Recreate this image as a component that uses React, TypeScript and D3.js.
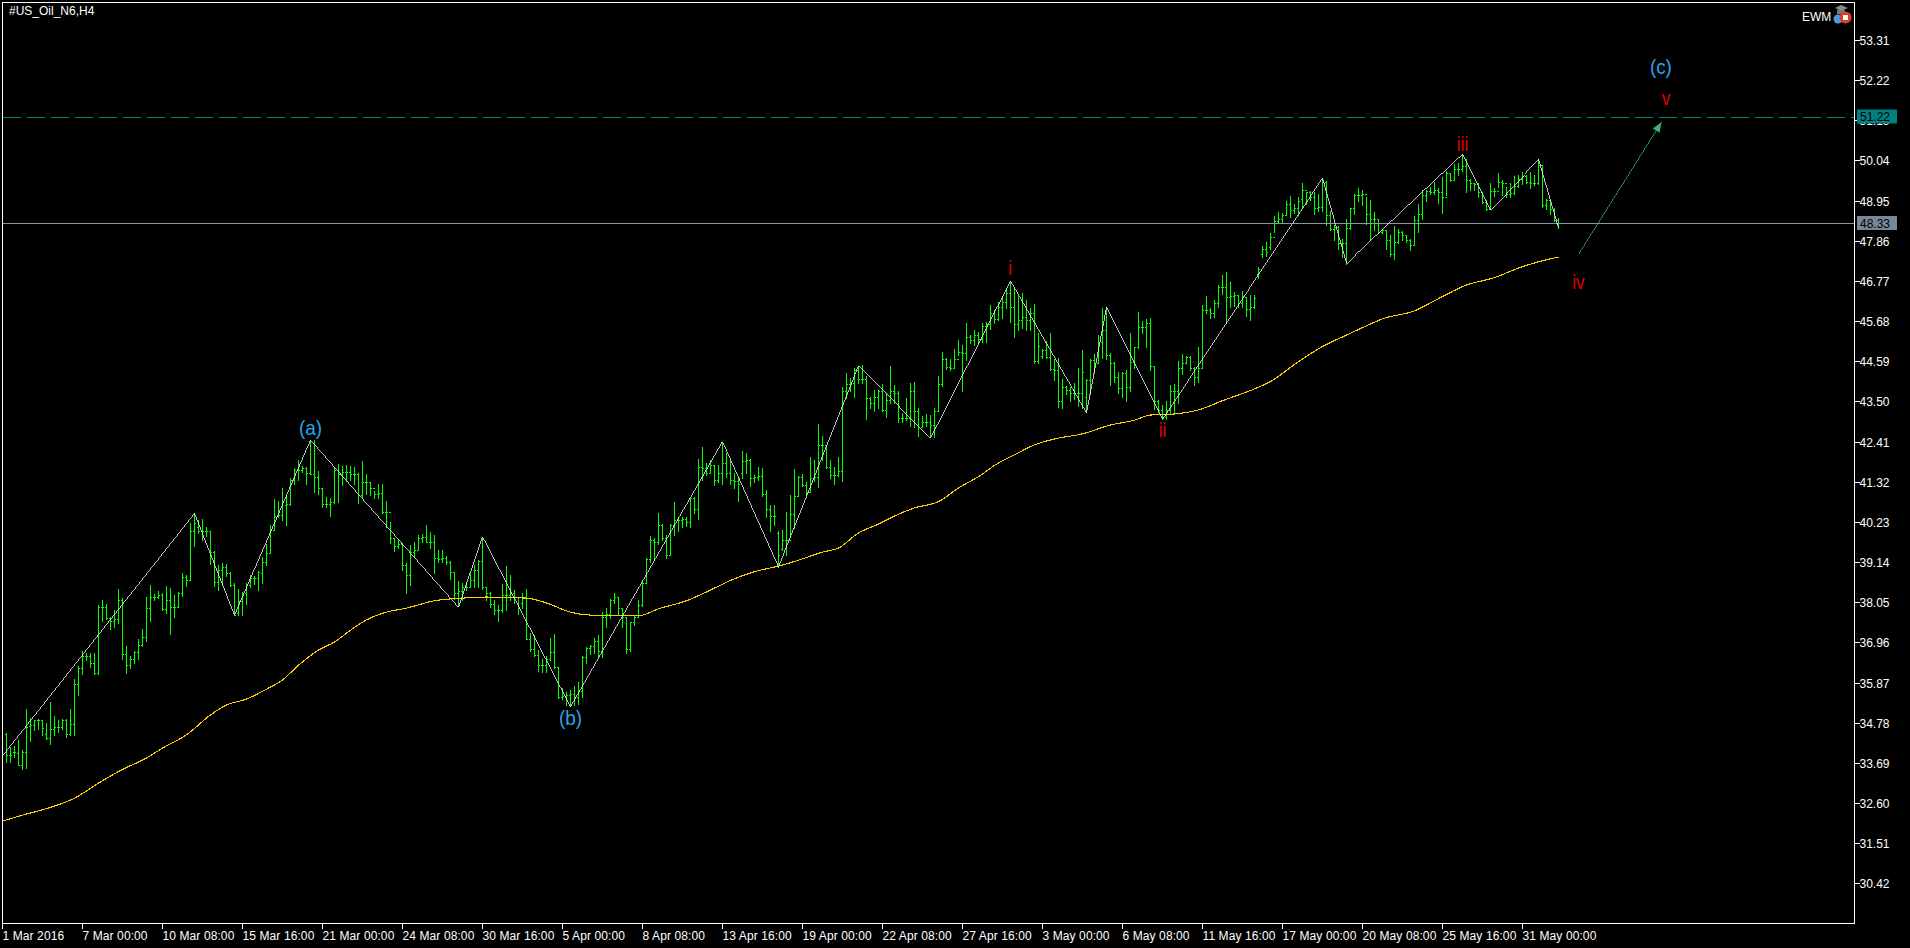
import React from "react";
import * as d3 from "d3";

// Each row: [high, low, open, close] of one H4 bar
const barsEarlyMarch: number[][] = [
[34.49,33.70,34.47,33.91],[34.11,33.72,33.91,33.91],[34.15,33.86,33.99,33.99],[34.31,33.62,33.95,33.63],[34.04,33.53,33.63,33.99],[35.14,33.56,33.99,34.67],[34.91,34.29,34.69,34.72],[34.86,34.57,34.71,34.84],[34.87,34.62,34.86,34.86],[34.86,34.45,34.84,34.63],
[34.78,34.33,34.48,34.36],[35.34,34.19,34.36,34.60],[34.95,34.45,34.60,34.66],[34.86,34.54,34.66,34.67],[34.88,34.60,34.67,34.86],[34.89,34.40,34.86,34.48],[35.15,34.45,34.48,34.74],[35.96,34.45,34.74,35.83],[36.33,35.54,35.83,36.26],[36.73,36.11,36.26,36.60],
[36.67,36.47,36.60,36.60],[36.68,36.29,36.60,36.41],[36.68,36.09,36.41,36.12],[37.98,36.10,36.12,37.93],[38.11,37.53,37.93,37.91],[38.00,37.59,37.91,37.62],[37.66,37.33,37.62,37.55],[37.84,37.39,37.55,37.59],[38.41,37.48,37.59,38.10],[38.16,36.50,38.10,36.65],
[36.86,36.14,36.65,36.35],[36.59,36.26,36.35,36.50],[36.72,36.41,36.50,36.69],[37.05,36.52,36.69,36.89],[37.32,36.87,36.89,37.10],[38.20,37.01,37.10,37.89],[38.52,37.55,37.89,38.20],[38.28,38.10,38.20,38.20],[38.35,38.16,38.20,38.25],[38.29,37.84,38.25,37.87],
[38.49,37.75,37.87,38.11],[38.43,37.19,38.11,37.91],[38.25,37.66,37.91,37.93],[38.34,37.91,37.93,38.29],[38.84,38.23,38.29,38.73],[38.79,38.49,38.73,38.66],[40.20,38.64,38.66,39.99],[40.45,39.58,39.99,40.20],[40.29,39.92,40.10,39.99],[40.30,39.74,39.99,39.97],
[40.09,39.85,39.97,39.97],[39.99,39.09,39.97,39.40],[39.44,38.49,39.40,38.61],[39.06,38.39,38.61,38.93],[39.11,38.52,38.93,39.00],[39.09,38.77,39.00,38.84],[38.86,38.48,38.84,38.52],[38.58,37.71,38.52,37.71],[38.40,37.71,37.75,38.07],[38.34,37.71,38.07,38.29],
[38.57,38.00,38.29,38.52],[38.79,38.46,38.52,38.70],[38.75,38.55,38.70,38.70],[38.90,38.39,38.70,38.88],
];
const barsLateMarch: number[][] = [
[39.28,38.57,38.85,39.15],[39.64,39.05,39.15,39.39],[40.14,39.39,39.39,40.00],[40.85,40.05,40.00,40.39],[40.80,40.37,40.39,40.41],[41.14,40.29,40.41,40.77],[40.96,40.15,40.68,40.71],[41.41,40.68,40.71,41.36],[41.68,41.27,41.36,41.63],[41.91,41.36,41.63,41.65],
[41.74,41.59,41.65,41.68],[41.72,41.25,41.68,41.56],[42.43,41.54,41.56,41.54],[42.45,41.05,41.54,41.45],[41.61,41.00,41.45,41.14],[41.11,40.64,41.14,40.71],[40.91,40.64,40.71,40.71],[40.89,40.39,40.71,40.77],[41.72,40.75,40.77,41.65],[41.80,40.77,41.65,41.53],
[41.74,41.23,41.53,41.59],[41.77,41.34,41.59,41.59],[41.74,41.38,41.59,41.53],[41.71,41.27,41.53,41.54],[41.56,40.75,41.54,40.96],[41.87,40.91,40.96,41.32],[41.53,41.00,41.32,41.32],[41.32,40.96,41.32,41.16],[41.07,40.88,41.16,40.98],[41.27,40.87,40.98,41.02],
[41.27,40.46,41.02,40.50],[40.80,40.10,40.50,40.50],[40.23,39.66,40.50,39.78],[39.78,39.44,39.78,39.57],[39.73,39.53,39.57,39.64],[39.66,38.92,39.64,39.05],[39.12,38.30,39.05,38.78],[39.60,38.51,38.78,39.42],[39.69,39.30,39.42,39.46],[39.87,39.48,39.48,39.78],
[39.90,39.69,39.78,39.81],[40.14,39.69,39.81,39.69],[39.96,39.53,39.69,39.69],[39.87,38.83,39.69,39.26],[39.46,39.15,39.26,39.21],[39.46,39.15,39.21,39.24],[39.30,39.08,39.24,39.15],[39.17,38.69,39.15,38.87],[38.87,38.15,38.87,38.29],[38.62,37.94,38.29,38.36],
[38.56,38.10,38.36,38.47],[38.60,38.39,38.47,38.47],[38.83,38.47,38.47,38.65],[39.05,38.45,38.65,38.92],[39.19,38.45,38.92,39.17],[39.82,38.42,39.17,38.45],[38.45,38.12,38.45,38.29],[38.33,37.92,38.29,38.01],[38.10,37.74,38.01,37.83],[37.97,37.54,37.83,37.85],
[38.54,37.79,37.85,38.24],[39.03,37.83,38.24,38.24],[38.78,38.10,38.24,38.29],[38.38,38.03,38.29,38.20],[38.20,37.72,38.20,37.88],
];
const barsEarlyApril: number[][] = [
[38.29,37.88,38.02,38.20],[38.40,37.04,38.20,37.04],[37.22,36.73,37.04,36.77],[37.16,36.59,36.77,36.61],[36.75,36.19,36.61,36.34],[36.52,36.16,36.34,36.34],[36.59,36.16,36.34,36.52],[37.07,36.48,36.52,36.70],[37.20,36.27,36.70,36.28],[36.28,35.44,36.28,35.48],
[35.71,35.41,35.48,35.50],[35.62,35.26,35.50,35.53],[35.66,35.23,35.53,35.55],[35.77,35.26,35.55,35.48],[35.89,35.30,35.48,35.64],[36.59,35.48,35.64,36.57],[36.84,36.40,36.57,36.82],[36.88,36.64,36.82,36.86],[37.07,36.66,36.86,37.00],[37.16,36.57,37.00,36.73],
[37.79,36.57,36.73,37.65],[37.88,37.38,37.65,37.73],[38.15,37.61,37.73,38.12],[38.29,38.03,38.12,38.18],[38.20,37.70,38.18,37.88],[37.88,37.38,37.88,37.65],[37.65,36.68,37.65,36.79],[37.52,36.73,36.79,37.52],[37.67,37.43,37.52,37.65],[38.11,37.67,37.65,37.97],
[38.65,37.95,37.97,38.56],[39.26,38.56,38.56,39.21],[39.84,39.15,39.21,39.73],[39.78,39.19,39.73,39.69],[40.46,39.64,39.69,40.14],[40.17,39.73,40.14,39.78],[39.87,39.24,39.78,39.33],[40.17,39.33,39.33,40.14],[40.77,39.87,40.14,40.28],[40.37,39.99,40.28,40.28],
[40.35,40.08,40.28,40.30],[40.35,40.12,40.30,40.23],[40.87,40.08,40.23,40.87],[40.91,40.46,40.87,40.59],[41.93,40.31,40.59,41.71],[42.25,41.36,41.71,41.68],[41.82,41.50,41.68,41.55],[41.91,41.55,41.55,41.77],[41.77,41.23,41.77,41.38],[41.77,41.32,41.38,41.55],
[42.40,41.27,41.55,41.82],[42.09,41.45,41.82,41.55],[41.91,41.27,41.55,41.38],[41.55,41.14,41.38,41.35],[41.45,40.80,41.35,41.27],[42.15,41.41,41.55,41.89],[42.09,41.55,41.89,41.91],[41.95,41.20,41.91,41.41],[41.50,41.32,41.41,41.44],[41.71,41.38,41.44,41.47],
[41.69,40.93,41.47,41.00],[41.09,40.35,41.00,40.59],[40.69,39.99,40.59,40.39],[40.69,40.14,40.39,40.39],[39.99,39.01,39.92,39.33],
];
const barsLateApril: number[][] = [
[40.01,39.47,39.49,39.74],[40.49,39.33,39.74,39.74],[40.95,39.81,39.74,40.44],[41.67,40.06,40.44,40.94],[41.48,40.94,40.94,41.44],[41.53,41.21,41.44,41.23],[41.30,40.96,41.23,41.05],[41.98,41.03,41.05,41.42],[41.91,41.35,41.42,41.46],[42.89,41.19,41.46,42.32],
[42.57,41.91,42.32,42.32],[42.32,41.69,42.32,41.73],[41.91,41.42,41.73,41.51],[41.71,41.26,41.51,41.51],[41.98,41.48,41.51,41.62],[43.90,41.35,41.62,43.77],[44.28,43.59,43.77,43.98],[44.13,43.77,43.98,44.00],[44.40,43.61,44.00,44.36],[44.47,44.00,44.36,44.10],
[44.49,44.00,44.10,44.10],[44.19,43.03,44.10,43.59],[43.63,43.32,43.59,43.45],[43.80,43.23,43.45,43.63],[43.80,43.32,43.63,43.77],[43.98,43.25,43.77,43.27],[43.72,43.09,43.27,43.54],[44.47,43.47,43.54,43.77],[43.95,43.45,43.77,43.72],[43.77,42.93,43.72,43.04],
[43.18,42.95,43.04,43.04],[43.59,43.00,43.04,43.04],[44.00,42.82,43.04,43.77],[44.02,42.80,43.77,43.23],[43.32,42.57,43.23,42.80],[43.11,42.82,42.80,42.95],[43.16,42.82,42.95,42.95],[43.12,42.53,42.95,42.86],[43.33,42.53,42.86,43.23],[44.19,43.23,43.23,43.97],
[44.84,43.92,43.97,44.65],[44.67,44.38,44.65,44.43],[44.65,44.36,44.43,44.40],[44.93,44.40,44.40,44.65],[45.17,44.76,44.65,44.83],[45.04,43.77,44.83,44.81],
[45.63,44.62,44.81,45.26],[45.30,45.09,45.26,45.18],[45.44,45.03,45.18,45.30],[45.38,45.09,45.30,45.20],[45.63,45.11,45.20,45.55],[45.66,45.11,45.55,45.60],[46.12,45.47,45.60,45.90],[45.98,45.63,45.90,45.75],[46.20,45.71,45.75,46.05],[46.36,45.76,46.05,46.20],
[46.58,46.04,46.20,46.45],[46.77,45.66,46.45,46.05],[46.58,45.25,46.05,45.60],[46.36,45.44,45.60,45.70],[46.44,45.49,45.70,45.80],[46.25,45.44,45.80,45.70],[46.04,45.44,45.70,45.90],[46.15,44.54,45.90,44.60],[45.36,44.54,44.60,45.00],
];
const barsEarlyMay: number[][] = [
[44.92,44.67,44.74,44.90],[45.14,44.67,44.90,44.70],[45.37,44.36,44.70,44.37],[44.64,44.08,44.37,44.36],[44.67,43.34,44.36,43.50],[44.11,43.31,43.50,43.88],[43.92,43.70,43.88,43.81],[43.88,43.52,43.81,43.72],[43.99,43.56,43.72,43.72],[44.40,43.38,43.72,43.72],
[44.90,43.31,43.72,44.31],[44.10,43.27,43.63,44.08],[44.64,43.70,44.08,44.63],[44.79,44.26,44.63,44.55],[45.31,44.55,44.55,45.12],[46.03,44.67,45.12,45.44],[46.00,44.64,45.44,44.76],[44.81,43.95,44.76,44.54],[44.58,44.04,44.54,44.17],[44.31,43.74,44.17,43.86],
[44.31,43.61,43.86,44.26],[44.36,43.52,44.26,43.90],[45.37,43.79,43.90,44.58],[44.99,44.40,44.58,44.97],[45.94,44.94,44.97,45.51],[45.67,45.35,45.51,45.51],[45.73,44.99,45.51,45.64],[45.76,44.34,45.64,44.45],[44.46,43.29,44.45,43.50],[43.54,43.22,43.50,43.27],
[43.40,43.02,43.27,43.09],[43.52,43.02,43.09,43.27],[43.95,43.16,43.27,43.77],[43.97,43.16,43.77,43.77],[44.61,43.47,43.77,44.40],[44.79,44.25,44.40,44.54],[44.74,44.54,44.54,44.70],[44.74,44.34,44.70,44.40],[44.43,43.95,44.40,44.16],[44.97,44.04,44.16,44.40],
[46.12,44.40,44.40,45.97],[46.35,45.89,45.97,45.97],[46.03,45.76,45.97,45.91],[46.26,45.78,45.91,46.17],[46.66,46.07,46.17,46.60],[46.93,46.42,46.60,46.60],[47.02,45.64,46.60,46.33],[46.75,46.06,46.33,46.35],[46.48,46.09,46.35,46.39],[46.39,46.07,46.39,46.18],
[46.51,46.06,46.18,46.35],[46.33,45.82,46.33,46.00],[46.39,45.71,46.00,46.06],[46.39,46.03,46.06,46.30],
[47.16,46.86,46.95,47.10],[47.73,47.42,47.50,47.65],[47.83,47.45,47.65,47.55],[48.07,47.64,47.70,47.95],[48.53,48.10,47.95,48.40],[48.64,48.37,48.40,48.45],[48.61,48.37,48.45,48.55],[48.94,48.56,48.55,48.85],[49.08,48.51,48.85,48.70],[48.86,48.61,48.70,48.75],[49.05,48.56,48.75,48.95],
];
const barsLateMay: number[][] = [
[49.43,48.76,49.00,49.23],[49.19,48.87,49.23,49.19],[49.22,48.96,49.19,49.05],[49.19,48.60,49.05,48.76],[49.14,48.66,48.76,48.78],[49.55,48.67,48.78,49.46],[49.49,48.28,49.46,48.56],[48.66,48.15,48.56,48.19],[48.28,47.89,48.19,48.24],[48.26,47.63,48.24,47.79],
[47.92,47.42,47.79,47.79],[48.44,47.24,47.79,48.22],[48.76,48.19,48.22,48.76],[49.14,48.60,48.76,49.10],[49.28,48.94,49.10,49.10],[49.23,48.83,49.10,49.14],[49.05,48.31,49.14,48.60],[48.96,47.89,48.60,48.46],[48.64,48.15,48.46,48.46],[48.46,48.06,48.46,48.10],
[48.19,48.06,48.10,48.15],[48.15,47.63,48.15,47.88],[48.01,47.44,47.88,47.51],[48.26,47.36,47.51,47.83],[48.17,47.79,47.83,48.10],[48.12,47.88,48.10,48.01],[48.01,47.83,48.01,47.89],[47.92,47.62,47.89,47.74],[48.54,47.74,47.74,48.42],[48.87,48.10,48.42,48.60],
[49.25,48.46,48.60,49.10],[49.25,48.94,49.10,49.22],[49.32,49.13,49.22,49.19],[49.46,49.12,49.19,49.23],[49.28,48.89,49.23,49.19],[49.58,48.62,49.19,49.05],[49.76,49.10,49.05,49.69],[49.69,49.49,49.69,49.52],[49.94,49.51,49.52,49.80],[49.96,49.64,49.80,49.82],
[50.18,49.76,49.82,49.89],[50.09,49.19,49.89,49.51],[49.55,49.23,49.51,49.42],[49.42,49.23,49.42,49.40],[49.42,49.05,49.40,49.19],[49.19,48.89,49.19,48.92],[48.96,48.69,48.92,48.71],[49.43,48.71,48.71,49.22],[49.28,49.07,49.22,49.22],[49.69,49.32,49.22,49.46],
[49.51,49.10,49.46,49.42],[49.31,49.05,49.42,49.14],[49.42,49.05,49.14,49.16],[49.61,49.14,49.16,49.34],[49.64,49.32,49.34,49.55],[49.73,49.40,49.55,49.61],[49.64,49.42,49.61,49.46],[49.73,49.30,49.46,49.43],[49.64,49.37,49.43,49.42],[50.05,49.40,49.42,49.91],
[49.91,48.78,49.91,48.83],[48.99,48.71,48.83,48.96],[48.96,48.60,48.96,48.71],[48.76,48.39,48.71,48.42],[48.48,48.22,48.42,48.33],
];

// Moving average: bar index and value
const maBars = [-1,4,11,17,23,29,35,39,45,51,55,60,65,69,73,78,82,86,90,95,100,107,114,120,130,135,141,146,158,163,170,176,181,187,193,198,204,208,213,218,222,227,233,238,243,248,252,257,262,269,276,282,286,292,298,304,312,316,323,329,335,342,344,352,358,365,372,378,383,388];
const maValues = [32.11,32.27,32.48,32.73,33.14,33.51,33.82,34.09,34.45,34.99,35.26,35.42,35.69,35.94,36.34,36.75,36.97,37.29,37.57,37.78,37.89,38.09,38.16,38.19,38.16,38.03,37.78,37.70,37.68,37.87,38.09,38.38,38.64,38.88,39.03,39.19,39.41,39.52,39.93,40.17,40.39,40.61,40.78,41.15,41.46,41.83,42.05,42.32,42.48,42.62,42.86,42.99,43.13,43.16,43.27,43.52,43.84,44.04,44.58,44.99,45.30,45.65,45.74,45.96,46.29,46.66,46.86,47.12,47.29,47.42];

// ZigZag pivots
const zigBars = [-0.9,47,57,76,113,119,141,179,193,213,231,251,270,275,289,329,335,364,371,383,388];
const zigValues = [33.89,40.46,37.70,42.45,37.91,39.83,35.21,42.41,39.01,44.47,42.50,46.77,43.19,46.05,43.01,49.56,47.25,50.21,48.70,50.07,48.21];

const priceTicks = ["53.31","52.22","51.13","50.04","48.95","47.86","46.77","45.68","44.59","43.50","42.41","41.32","40.23","39.14","38.05","36.96","35.87","34.78","33.69","32.60","31.51","30.42"];
const timeTicks = ["1 Mar 2016","7 Mar 00:00","10 Mar 08:00","15 Mar 16:00","21 Mar 00:00","24 Mar 08:00","30 Mar 16:00","5 Apr 00:00","8 Apr 08:00","13 Apr 16:00","19 Apr 00:00","22 Apr 08:00","27 Apr 16:00","3 May 00:00","6 May 08:00","11 May 16:00","17 May 00:00","20 May 08:00","25 May 16:00","31 May 00:00"];
const barsPerTimeTick = 20;

const targetPrice = 51.22;
const lastPrice = 48.33;

// Wave labels: text, bar index, price (text centre)
const blueWaves: [string, number, number][] = [["(a)",76,42.80],["(b)",141,34.93],["(c)",413.6,52.60]];
const redWaves: [string, number, number][] = [["i",250.9,47.12],["ii",289,42.72],["iii",364,50.48],["iv",393,46.75],["v",414.9,51.74]];
const forecastArrow = { fromBar: 393, fromPrice: 47.49, toBar: 413.75, toPrice: 51.08 };

const allBars = [...barsEarlyMarch, ...barsLateMarch, ...barsEarlyApril, ...barsLateApril, ...barsEarlyMay, ...barsLateMay];

const W = 1910, H = 948;
const left = 2.5, right = 1854.5, top = 2.5, bottom = 923.5;
const x = d3.scaleLinear().domain([0, 100]).range([6.5, 406.5]);
const y = d3.scaleLinear().domain([53.31, 30.42]).range([40, 883.3]);
const py = (p: number) => Math.round(y(p)) + 0.5;
const FONT = "'Liberation Sans', Arial, sans-serif";
const GREEN = "#00ff00";

export default function App() {
  const maLine = d3.line<number>().x((_, i) => x(maBars[i])).y((d) => y(d)).curve(d3.curveMonotoneX);
  const zigLine = d3.line<number>().x((_, i) => x(zigBars[i])).y((d) => y(d));
  const ax1 = x(forecastArrow.fromBar), ay1 = y(forecastArrow.fromPrice);
  const ax2 = x(forecastArrow.toBar), ay2 = y(forecastArrow.toPrice);
  const ang = Math.atan2(ay2 - ay1, ax2 - ax1);
  const headPt = (l: number, w: number) => `${ax2 - l * Math.cos(ang) - w * Math.sin(ang)},${ay2 - l * Math.sin(ang) + w * Math.cos(ang)}`;
  return (
    <svg width={W} height={H} viewBox={`0 0 ${W} ${H}`} style={{ position: "absolute", left: 0, top: 0, background: "#000", display: "block" }}>
      <rect x={0} y={0} width={W} height={H} fill="#000" />
      <g stroke={GREEN} strokeWidth={1} shapeRendering="crispEdges">
        {allBars.map(([h, l, o, c], i) => {
          const bx = x(i);
          return (
            <g key={i}>
              <line x1={bx} x2={bx} y1={py(h) - 0.5} y2={py(l) + 0.5} />
              <line x1={bx - 1.5} x2={bx} y1={py(o)} y2={py(o)} />
              <line x1={bx} x2={bx + 1.5} y1={py(c)} y2={py(c)} />
            </g>
          );
        })}
      </g>
      <path d={maLine(maValues) || ""} fill="none" stroke="#ffcc00" strokeWidth={1.1} shapeRendering="crispEdges" />
      <line x1={left} x2={right} y1={py(targetPrice)} y2={py(targetPrice)} stroke="#008080" strokeDasharray="18 6" shapeRendering="crispEdges" />
      <line x1={left} x2={right} y1={py(lastPrice)} y2={py(lastPrice)} stroke="#8a97a6" shapeRendering="crispEdges" />
      <path d={zigLine(zigValues) || ""} fill="none" stroke="#ffffff" strokeWidth={0.75} shapeRendering="crispEdges" />
      <line x1={ax1} y1={ay1} x2={ax2} y2={ay2} stroke="#3cb371" strokeWidth={0.75} shapeRendering="crispEdges" />
      <polygon points={`${ax2},${ay2} ${headPt(10, 4)} ${headPt(10, -4)}`} fill="#3cb371" />

      {blueWaves.map(([t, b, p]) => (
        <text key={t} transform={`translate(${x(b)},${y(p)}) scale(0.9,1)`} textAnchor="middle" dominantBaseline="central" fontFamily={FONT} fontSize={21} fill="#25a5ea">{t}</text>
      ))}
      {redWaves.map(([t, b, p]) => (
        <text key={t} transform={`translate(${x(b)},${y(p)}) scale(0.82,1)`} textAnchor="middle" dominantBaseline="central" fontFamily={FONT} fontSize={21} fill="#e00000">{t}</text>
      ))}

      <rect x={left} y={top} width={right - left} height={bottom - top} fill="none" stroke="#fff" strokeWidth={1} shapeRendering="crispEdges" />
      <g fontFamily={FONT} fontSize={12} fill="#fff">
        {priceTicks.map((t) => (
          <g key={t}>
            <line x1={right} x2={right + 5} y1={py(+t)} y2={py(+t)} stroke="#fff" shapeRendering="crispEdges" />
            <text x={1859.5} y={py(+t) + 4.5}>{t}</text>
          </g>
        ))}
        {timeTicks.map((t, i) => {
          const tx = x(i * barsPerTimeTick) - 4;
          return (
            <g key={t}>
              <line x1={tx} x2={tx} y1={bottom} y2={bottom + 5} stroke="#fff" shapeRendering="crispEdges" />
              <text x={tx} y={940} letterSpacing={0.1}>{t}</text>
            </g>
          );
        })}
        <text x={9} y={15}>#US_Oil_N6,H4</text>
        <text x={1802} y={20.5}>EWM</text>
      </g>

      <rect x={1857} y={y(targetPrice) - 7.5} width={40} height={14} fill="#008080" />
      <text x={1860} y={y(targetPrice) + 4.2} fontFamily={FONT} fontSize={12} fill="#000">51.22</text>
      <rect x={1857} y={y(lastPrice) - 7.5} width={40} height={14} fill="#778899" />
      <text x={1860} y={y(lastPrice) + 4.2} fontFamily={FONT} fontSize={12} fill="#000">48.33</text>

      <g>
        <ellipse cx={1838} cy={19} rx={4.5} ry={4.5} fill="#4a9be0" />
        <polygon points="1835,8 1841,5 1848,8 1841,11" fill="#8a8a8a" />
        <rect x={1837} y={10} width={8} height={4} fill="#777" />
        <circle cx={1845.5} cy={17.5} r={6} fill="#d9412b" />
        <rect x={1843} y={15} width={5} height={5} fill="#fff" />
      </g>
    </svg>
  );
}
